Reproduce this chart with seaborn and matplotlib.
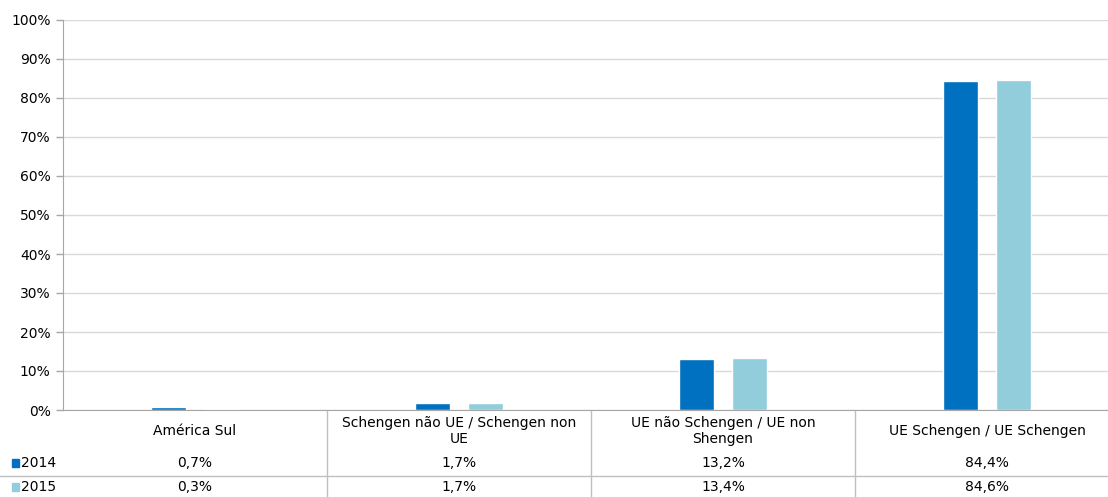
import matplotlib
matplotlib.use("Agg")
import matplotlib.pyplot as plt
import matplotlib.transforms as mtransforms
from matplotlib.ticker import MultipleLocator, FuncFormatter
import seaborn as sns
import pandas as pd

categories = ["América Sul", "Schengen não UE / Schengen non\nUE",
              "UE não Schengen / UE non\nShengen", "UE Schengen / UE Schengen"]
years = ["2014", "2015"]
values_2014 = [0.7, 1.7, 13.2, 84.4]
values_2015 = [0.3, 1.7, 13.4, 84.6]
colors = ["#0070C0", "#92CDDC"]

df = pd.DataFrame({
    "categoria": categories * 2,
    "ano": [years[0]] * 4 + [years[1]] * 4,
    "valor": values_2014 + values_2015,
})

sns.set_style("white")
plt.rcParams["font.family"] = ["DejaVu Sans"]
plt.rcParams["text.color"] = "black"

W, H = 1108, 497
fig = plt.figure(figsize=(W / 100, H / 100), dpi=100)
# plot area runs slightly past the right edge of the canvas
ax = fig.add_axes([63 / W, (H - 410) / H, (1119 - 63) / W, (410 - 20) / H])

sns.barplot(data=df, x="categoria", y="valor", hue="ano", palette=colors,
            width=0.4, gap=0.337, ax=ax, legend=False, saturation=1)

ax.set_ylim(0, 100)
ax.set_xlim(-0.5, 3.5)
ax.yaxis.set_major_locator(MultipleLocator(10))
ax.yaxis.set_major_formatter(FuncFormatter(lambda v, p: f"{v:.0f}%"))
ax.grid(axis="y", color="#D9D9D9", linewidth=1)
ax.set_axisbelow(True)
ax.set_xlabel("")
ax.set_ylabel("")
ax.set_xticks([])
for s in ["top", "right"]:
    ax.spines[s].set_visible(False)
ax.spines["left"].set_color("#A6A6A6")
ax.spines["bottom"].set_color("#A6A6A6")
ax.tick_params(axis="y", direction="out", length=5, width=1, color="#A6A6A6",
               labelsize=10, labelcolor="black", pad=4, left=True)


def fy(y):
    return (H - y) / H


# data table under the plot
trans = mtransforms.blended_transform_factory(ax.transData, fig.transFigure)
line_kw = dict(color="#BFBFBF", linewidth=1, clip_on=False)
for i, cat in enumerate(categories):
    ax.text(i, fy(431), cat, transform=trans, ha="center", va="center",
            fontsize=10, linespacing=1.15, color="black")
    ax.text(i, fy(463), f"{values_2014[i]:.1f}%".replace(".", ","),
            transform=trans, ha="center", va="center", fontsize=10, color="black")
    ax.text(i, fy(487), f"{values_2015[i]:.1f}%".replace(".", ","),
            transform=trans, ha="center", va="center", fontsize=10, color="black")
    if i > 0:
        ax.plot([i - 0.5, i - 0.5], [fy(410), fy(497)], transform=trans, **line_kw)

fig.add_artist(plt.Line2D([0, 1], [fy(475.5), fy(475.5)],
                          transform=fig.transFigure, color="#BFBFBF", linewidth=1))

for y, yr, c in [(463, years[0], colors[0]), (487, years[1], colors[1])]:
    fig.add_artist(plt.Rectangle((12 / W, fy(y + 4)), 7 / W, 8 / H,
                                 transform=fig.transFigure, color=c))
    fig.text(21 / W, fy(y), yr, ha="left", va="center", fontsize=10, color="black")

fig.savefig("out.png", dpi=100)
